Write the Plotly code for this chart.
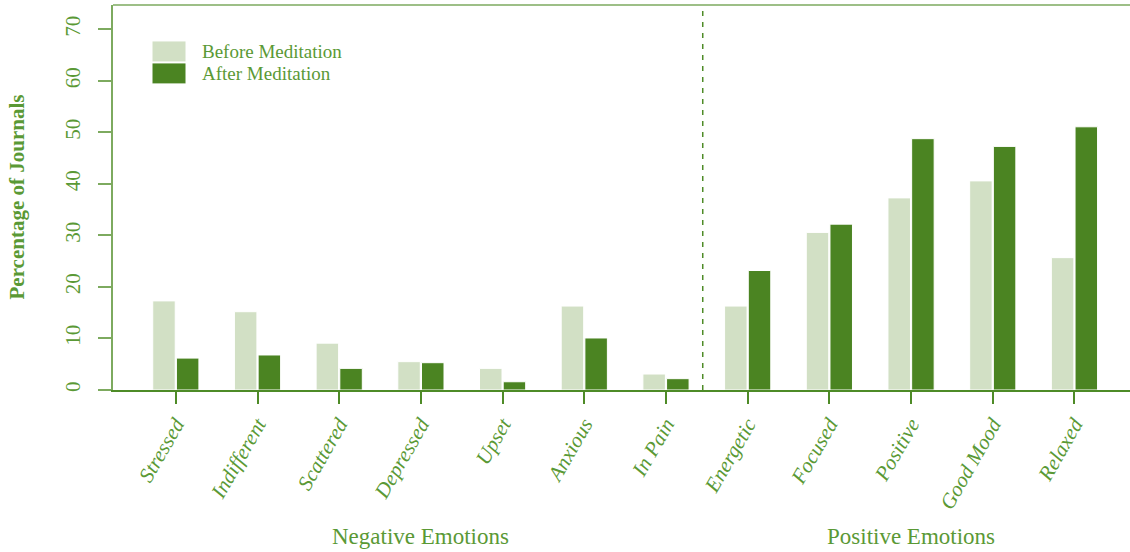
import plotly.graph_objects as go

categories = ["Stressed", "Indifferent", "Scattered", "Depressed", "Upset", "Anxious",
              "In Pain", "Energetic", "Focused", "Positive", "Good Mood", "Relaxed"]
before_meditation = [17.3, 15.2, 9.1, 5.5, 4.2, 16.3, 3.1, 16.3, 30.6, 37.3, 40.6, 25.7]
after_meditation = [6.2, 6.8, 4.2, 5.3, 1.6, 10.1, 2.2, 23.2, 32.2, 48.8, 47.3, 51.1]
y_ticks = [0, 10, 20, 30, 40, 50, 60, 70]
group_labels = ["Negative Emotions", "Positive Emotions"]
series_names = ["Before Meditation", "After Meditation"]

C_BEFORE = "#D2E0C5"
C_AFTER = "#4B8422"
C_TEXT = "#5A9935"
C_LINE = "#7DAA5F"
C_DARK = "#4E8B27"
FONT = "Liberation Serif"

W, H = 1130, 552
L, R, T, B = 113, 0, 5, 161.5
pw = W - L - R
ph = H - T - B

def px_x(p):
    return (p - L) / pw

def px_y(p):
    return (H - B - p) / ph

fig = go.Figure()
fig.add_trace(go.Bar(x=categories, y=before_meditation, name=series_names[0],
                     marker=dict(color=C_BEFORE, line=dict(color="white", width=1)),
                     showlegend=False))
fig.add_trace(go.Bar(x=categories, y=after_meditation, name=series_names[1],
                     marker=dict(color=C_AFTER, line=dict(color="white", width=1)),
                     showlegend=False))

fig.update_layout(
    width=W, height=H,
    margin=dict(l=L, r=R, t=T, b=B, pad=0),
    plot_bgcolor="white", paper_bgcolor="white",
    barmode="group", bargap=0.42, bargroupgap=0.05,
    font=dict(family=FONT, color=C_TEXT),
    xaxis=dict(
        type="category", range=[-0.769, 11.68],
        showline=True, linecolor=C_DARK, linewidth=1.5,
        ticks="outside", ticklen=12, tickcolor=C_DARK, tickwidth=1.5,
        tickangle=-60, showgrid=False, zeroline=False,
        tickfont=dict(family=FONT, size=21, color=C_TEXT, style="italic"),
    ),
    yaxis=dict(
        range=[0, 74.75], tickvals=y_ticks, ticktext=[str(v) for v in y_ticks],
        showline=True, linecolor=C_LINE, linewidth=1.5,
        ticks="outside", ticklen=13, tickcolor=C_LINE, tickwidth=1.5,
        tickangle=-90, showgrid=False, zeroline=False,
        ticklabelstandoff=10,
        tickfont=dict(family=FONT, size=21, color=C_TEXT),
    ),
)

# top border
fig.add_shape(type="line", xref="paper", yref="paper", x0=0, x1=1, y0=1, y1=1,
              line=dict(color=C_LINE, width=1.5))
# dashed separator
fig.add_shape(type="line", xref="x", yref="paper", x0=6.45, x1=6.45, y0=0, y1=1,
              line=dict(color=C_DARK, width=1.5, dash="5px,6px"))

# legend
for i, (name, col) in enumerate(zip(series_names, [C_BEFORE, C_AFTER])):
    y0p = 41 + i * 22
    fig.add_shape(type="rect", xref="paper", yref="paper",
                  x0=px_x(152), x1=px_x(186), y0=px_y(y0p + 21), y1=px_y(y0p),
                  fillcolor=col, line=dict(color="white", width=1))
    fig.add_annotation(text=name, xref="paper", yref="paper",
                       x=px_x(200), y=px_y(y0p + 10.5), xanchor="left", yanchor="middle",
                       showarrow=False, font=dict(family=FONT, size=19, color=C_TEXT))

# group labels
for label, xc in zip(group_labels, [3, 9]):
    fig.add_annotation(text=label, xref="x", yref="paper", x=xc, y=px_y(537),
                       xanchor="center", yanchor="middle", showarrow=False,
                       font=dict(family=FONT, size=23, color=C_TEXT))

# y axis title
fig.add_annotation(text="Percentage of Journals", xref="paper", yref="paper",
                   x=px_x(16), y=0.5, textangle=-90, xanchor="center", yanchor="middle",
                   showarrow=False,
                   font=dict(family=FONT, size=21, color=C_TEXT, weight="bold"))

fig.write_html("out.html", config={"displayModeBar": False},
               post_script="document.body.style.margin='0';document.body.style.padding='0';")
